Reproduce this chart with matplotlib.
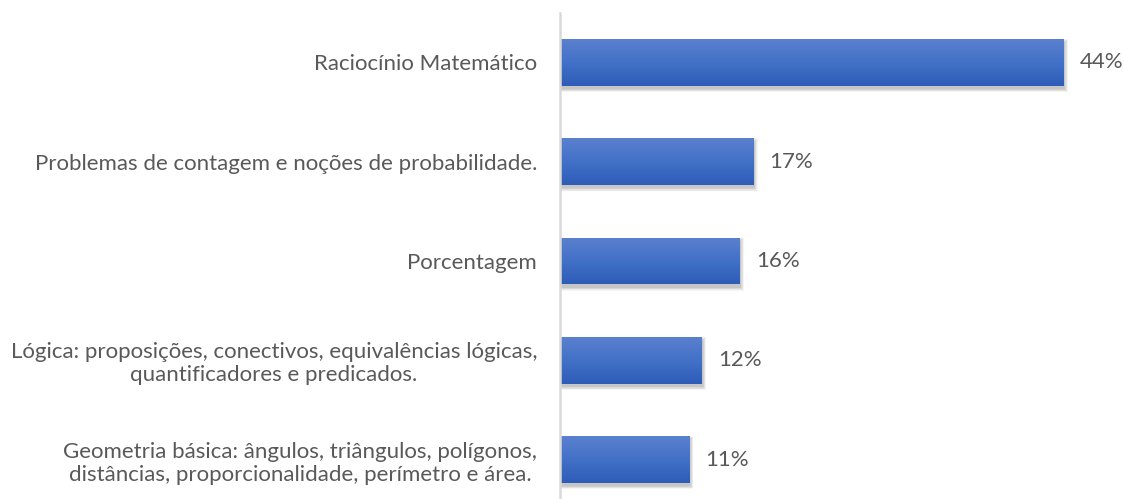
import numpy as np
import matplotlib.pyplot as plt
from matplotlib.colors import LinearSegmentedColormap
from matplotlib.patches import Rectangle

categorias = ['Raciocínio Matemático',
              'Problemas de contagem e noções de probabilidade.',
              'Porcentagem',
              'Lógica: proposições, conectivos, equivalências lógicas,\nquantificadores e predicados.',
              'Geometria básica: ângulos, triângulos, polígonos,\ndistâncias, proporcionalidade, perímetro e área.']
valores = [44.0, 16.9, 15.7, 12.4, 11.3]
rotulos = ['44%', '17%', '16%', '12%', '11%']

plt.rcParams['font.family'] = ['Lato', 'DejaVu Sans']

W, H = 1124, 499
fig = plt.figure(figsize=(W/100, H/100), dpi=100)
ax = fig.add_axes([560/W, 0, 564/W, 486/H])

pxx = 11.45          # pixels per unit on x
pxy = 99.25          # pixels per category on y

alto = 47/pxy
grad = LinearSegmentedColormap.from_list('g', ['#5b80ce', '#4271c8', '#2e5cb7'])
g = np.linspace(0, 1, 64).reshape(-1, 1)

for i, v in enumerate(valores):
    y0 = i - alto/2
    # sombra difusa
    for k in range(6):
        e = k*0.6
        sh = Rectangle((1.0/pxx - e/pxx, y0 + 3/pxy - e/pxy),
                       v + (2*e)/pxx, alto + (2*e)/pxy,
                       facecolor='#000000', alpha=0.04, linewidth=0, zorder=1)
        ax.add_patch(sh)
    r = Rectangle((0, y0), v, alto, facecolor='none', linewidth=0, zorder=2)
    ax.add_patch(r)
    im = ax.imshow(g, cmap=grad, aspect='auto', extent=(0, v, y0 + alto, y0),
                   zorder=2, interpolation='bilinear')
    im.set_clip_path(r)
    ax.text(v + 16/pxx, i, rotulos[i], va='center', ha='left',
            fontsize=16, color='#595959')

ax.set_xlim(0, 564/pxx)
ax.set_ylim((499-62.5)/pxy, -49.5/pxy)

ax.set_yticks(range(len(categorias)))
ax.set_yticklabels(categorias, fontsize=16, color='#595959', multialignment='center')
ax.tick_params(axis='y', length=0, pad=16.5)
ax.set_xticks([])
for s in ['top', 'right', 'bottom']:
    ax.spines[s].set_visible(False)
ax.spines['left'].set_color('#d9d9d9')
ax.spines['left'].set_linewidth(1.8)

fig.savefig('out.png', dpi=100)
